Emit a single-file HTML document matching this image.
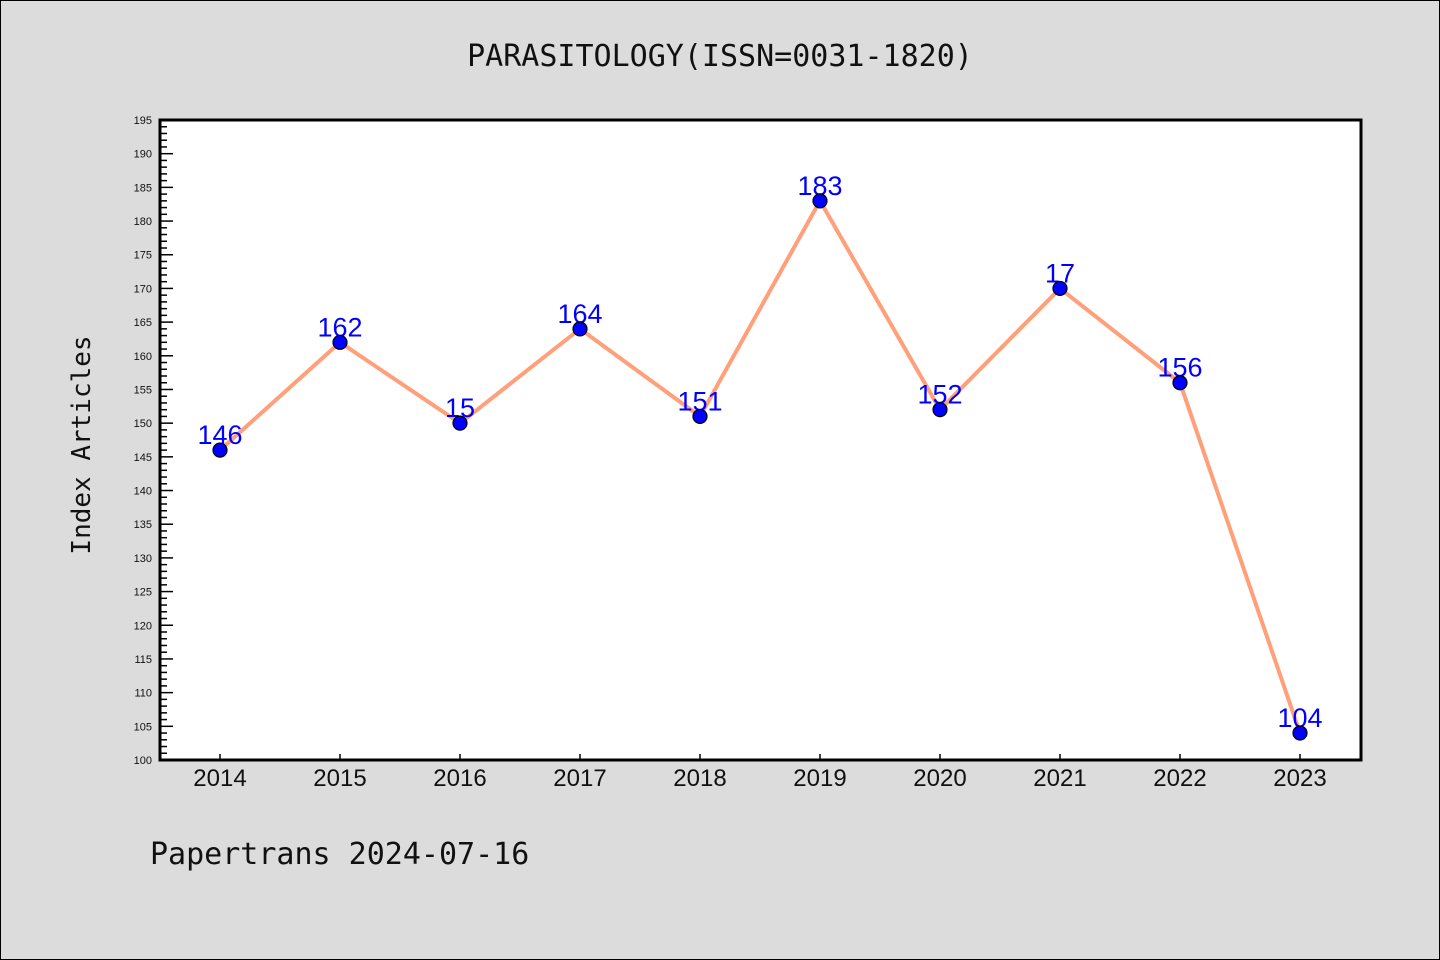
<!DOCTYPE html>
<html><head><meta charset="utf-8"><style>
html,body{margin:0;padding:0;background:#dcdcdc;}
svg{display:block;font-family:"Liberation Sans","DejaVu Sans",sans-serif;}
</style></head><body>
<svg id="chart" width="1440" height="960" viewBox="0 0 1440 960" xmlns="http://www.w3.org/2000/svg">
<rect x="0.5" y="0.5" width="1439" height="959" fill="#dcdcdc" stroke="#000"/>
<text x="720" y="66" text-anchor="middle" font-size="30" font-family="DejaVu Sans Mono, monospace" fill="#111">PARASITOLOGY(ISSN=0031-1820)</text>
<rect x="160" y="120" width="1201" height="640" fill="#fff"/>
<g id="axes"></g>
<g id="series"></g>
<rect x="160" y="120" width="1201" height="640" fill="none" stroke="#000" stroke-width="3"/>
<text transform="translate(90,445) rotate(-90)" text-anchor="middle" font-size="26" font-family="DejaVu Sans Mono, monospace" fill="#111">Index Articles</text>
<text x="150" y="864" font-size="30" font-family="DejaVu Sans Mono, monospace" fill="#111">Papertrans 2024-07-16</text>
</svg>
<script>
const years = ['2014','2015','2016','2017','2018','2019','2020','2021','2022','2023'];
const values = [146,162,150,164,151,183,152,170,156,104];
const valueLabels = ['146','162','15','164','151','183','152','17','156','104'];
const yMin = 100, yMax = 195, yStep = 5;
const NS='http://www.w3.org/2000/svg';
const L=160,R=1361,T=120,B=760;
function xs(i){return 220+i*120;}
function ys(v){return B-(v-yMin)/(yMax-yMin)*(B-T);}
function mk(tag,attrs,parent){const e=document.createElementNS(NS,tag);for(const k in attrs)e.setAttribute(k,attrs[k]);parent.appendChild(e);return e;}
const ax=document.getElementById('axes');
for(let v=yMin;v<=yMax;v++){
  const major=(v-yMin)%yStep===0;
  const t=mk('line',{x1:L,x2:L+(major?13:7),y1:ys(v),y2:ys(v),stroke:'#000','stroke-width':1.5},ax);
  
  
  if(major){
    const lb=mk('text',{x:L-8,y:ys(v)+4,'text-anchor':'end','font-size':11,fill:'#111'},ax);
    lb.textContent=v;
    
    
  }
}
years.forEach((y,i)=>{
  const t=mk('line',{x1:xs(i),x2:xs(i),y1:B,y2:B-6,stroke:'#000','stroke-width':1.5},ax);
  
  
  const lb=mk('text',{x:xs(i),y:B+26,'text-anchor':'middle','font-size':24,fill:'#111'},ax);
  lb.textContent=y;
  
  
});
const s=document.getElementById('series');
const line=mk('polyline',{points:values.map((v,i)=>xs(i)+','+ys(v)).join(' '),fill:'none',stroke:'#ffa07a','stroke-width':4},s);


values.forEach((v,i)=>{
  const lb=mk('text',{x:xs(i),y:ys(v)-6,'text-anchor':'middle','font-size':27,fill:'#0000ff'},s);
  lb.textContent=valueLabels[i];
  
  
});
values.forEach((v,i)=>{
  const c=mk('circle',{cx:xs(i),cy:ys(v),r:7,fill:'#0000ff',stroke:'#000','stroke-width':1.2},s);
  
  
});
</script>
</body></html>
